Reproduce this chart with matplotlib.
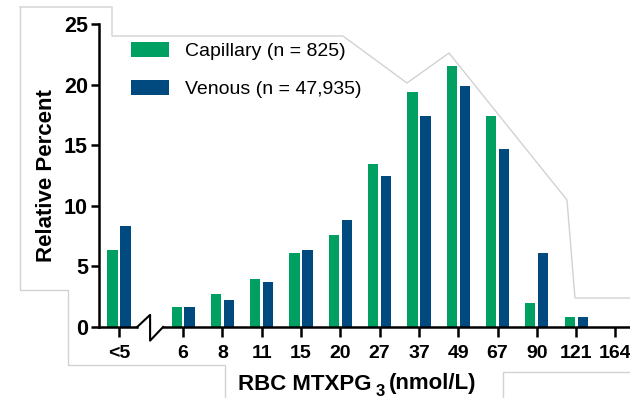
import matplotlib
matplotlib.use("Agg")
import matplotlib.pyplot as plt
import matplotlib.transforms as mtransforms
import numpy as np

# data
categories = ["<5", "6", "8", "11", "15", "20", "27", "37", "49", "67", "90", "121", "164"]
capillary = [6.35, 1.65, 2.7, 4.0, 6.1, 7.6, 13.45, 19.4, 21.5, 17.4, 2.0, 0.8, 0.0]
venous = [8.3, 1.65, 2.2, 3.7, 6.35, 8.8, 12.45, 17.4, 19.9, 14.7, 6.1, 0.8, 0.0]
yticks = [0, 5, 10, 15, 20, 25]

green = "#00a063"
blue = "#004a80"

plt.rcParams["font.family"] = ["Liberation Sans", "DejaVu Sans"]

# "<5" sits left of the axis break, the rest are evenly spaced
pos = np.array([0.0] + [1.63 + i for i in range(len(categories) - 1)])

fig = plt.figure(figsize=(6.3, 3.98), dpi=100)
ax = fig.add_axes([99 / 630, 1 - 327 / 398, 1 - 99 / 630, (327 - 24) / 398])

w = 0.26
off = 0.165
cap = [v if v > 0 else np.nan for v in capillary]
ven = [v if v > 0 else np.nan for v in venous]
ax.bar(pos - off, cap, width=w, color=green, label="Capillary (n = 825)")
ax.bar(pos + off, ven, width=w, color=blue, label="Venous (n = 47,935)")

ax.set_xlim(-0.51, 13.0)
ax.set_ylim(0, 25)
ax.set_yticks(yticks)
ax.set_xticks(pos)
ax.set_xticklabels(categories)

for s in ["top", "right", "bottom"]:
    ax.spines[s].set_visible(False)
ax.spines["left"].set_linewidth(1.8)
ax.tick_params(axis="y", direction="out", length=6, width=1.8, labelsize=15.5, pad=2)
ax.tick_params(axis="x", direction="out", length=7, width=1.8, labelsize=14, pad=6)
for lab in ax.get_xticklabels() + ax.get_yticklabels():
    lab.set_fontweight("bold")

# bottom axis with a break between "<5" and "6"
tr = mtransforms.blended_transform_factory(ax.transData, ax.transAxes)
ax.plot([-0.51, 0.46], [0, 0], color="black", lw=1.8, transform=tr, clip_on=False)
ax.plot([0.46, 0.79, 0.79, 1.12], [0, 0.04, -0.045, 0], color="black", lw=1.5,
        transform=tr, clip_on=False)
ax.plot([1.12, 13.0], [0, 0], color="black", lw=1.8, transform=tr, clip_on=False)

ax.set_ylabel("Relative Percent", fontsize=16, fontweight="bold", labelpad=5)

leg = ax.legend(loc="upper left", bbox_to_anchor=(0.06, 0.942), frameon=False,
                fontsize=14, handlelength=1.95, handleheight=0.85,
                labelspacing=1.0, handletextpad=0.85, borderpad=0, borderaxespad=0)

# x label with subscript
t1 = fig.text(238 / 630, 1 - 384 / 398, "RBC MTXPG", fontsize=16, fontweight="bold",
              va="center", ha="left")
t2 = ax.annotate("3", xy=(1, 0), xycoords=t1, xytext=(3, -3), textcoords="offset points",
                 fontsize=12, fontweight="bold", va="bottom", ha="left",
                 annotation_clip=False)
t3 = ax.annotate("(nmol/L)", xy=(1, 0), xycoords=t2, xytext=(3, 3), textcoords="offset points",
                 fontsize=16, fontweight="bold", va="bottom", ha="left",
                 annotation_clip=False)

# faint cut-out outline seen in the scan
def outline(xs, ys):
    fig.add_artist(plt.Line2D(np.array(xs) / 630, 1 - np.array(ys) / 398,
                              color="#d2d2d2", lw=1.0))

outline([20, 20, 65, 68, 68, 225, 225], [7, 290, 290, 290, 365, 365, 398])
outline([20, 112, 112, 343, 407, 449, 567, 575, 630], [7, 7, 36, 36, 83, 53, 200, 298, 298])
outline([503, 503, 630], [398, 372, 372])

fig.savefig("out.png", dpi=100)
